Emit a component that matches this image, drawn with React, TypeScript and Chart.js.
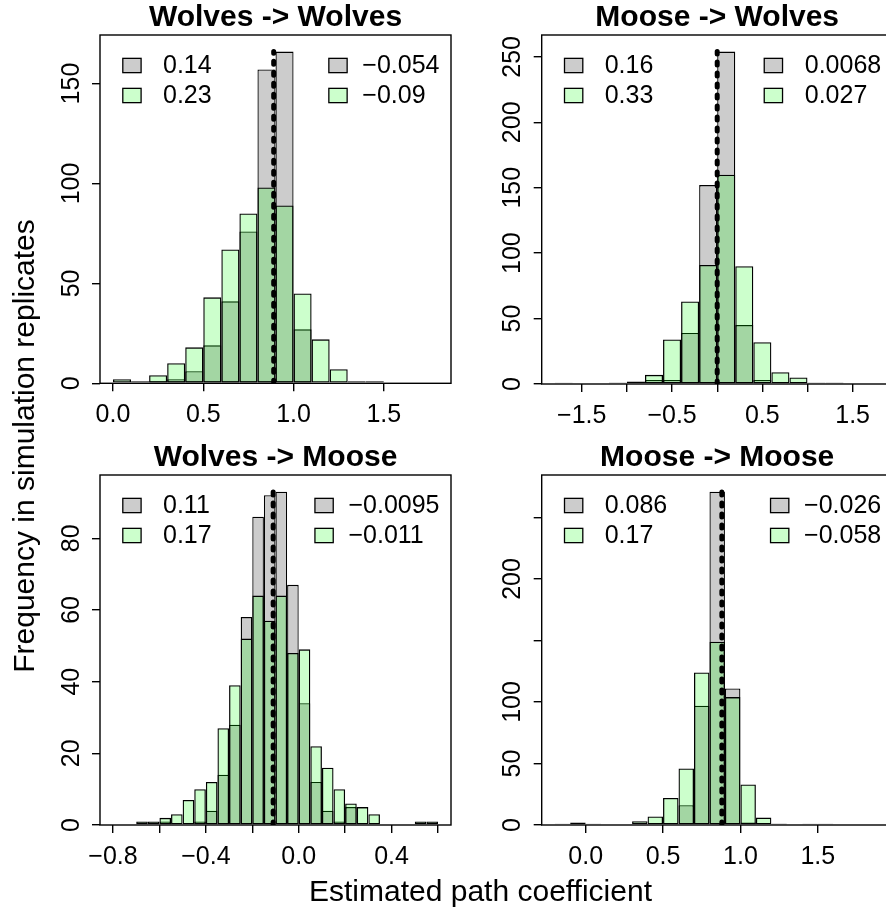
import React, { useEffect, useRef } from 'react';
import { Chart, registerables } from 'chart.js';

Chart.register(...registerables);

const FONT = "'Liberation Sans', Arial, Helvetica, sans-serif";
const GREY = '#cccccc';
const GREEN = 'rgba(0, 255, 0, 0.2)';

// ---------- Wolves -> Wolves ----------
const wwTitle = 'Wolves -> Wolves';
const wwBinStart = 0.0;
const wwBinWidth = 0.1;
const wwGrey = [0, 0, 1, 2, 6, 19, 41, 76, 157, 166, 27, 0, 0, 1, 0];
const wwGreen = [2, 1, 4, 10, 18, 43, 67, 85, 98, 89, 45, 22, 7, 0, 1];
const wwTrue = 0.89;
const wwXRange = [-0.072, 1.872];
const wwXTicks = [0, 0.5, 1, 1.5];
const wwXTickLabels = ['0.0', '0.5', '1.0', '1.5'];
const wwYTicks = [0, 50, 100, 150];
const wwYTickLabels = ['0', '50', '100', '150'];
const wwLegendLeft = ['0.14', '0.23'];
const wwLegendRight = ['\u22120.054', '\u22120.09'];

// ---------- Moose -> Wolves ----------
const mwTitle = 'Moose -> Wolves';
const mwBinStart = -1.8;
const mwBinWidth = 0.2;
const mwGrey = [1, 0, 0, 1, 2, 3, 3, 39, 152, 254, 45, 3, 0, 0, 1, 1];
const mwGreen = [0, 0, 0, 1, 1, 7, 34, 63, 91, 160, 90, 32, 9, 5, 1, 1];
const mwTrue = 0.0;
const mwXRange = [-1.944, 1.944];
const mwXTicks = [-1.5, -1, -0.5, 0, 0.5, 1, 1.5];
const mwXTickLabels = ['\u22121.5', '', '\u22120.5', '', '0.5', '', '1.5'];
const mwYTicks = [0, 50, 100, 150, 200, 250];
const mwYTickLabels = ['0', '50', '100', '150', '200', '250'];
const mwLegendLeft = ['0.16', '0.33'];
const mwLegendRight = ['0.0068', '0.027'];

// ---------- Wolves -> Moose ----------
const wmTitle = 'Wolves -> Moose';
const wmBinStart = -0.7;
const wmBinWidth = 0.05;
const wmGrey = [0, 0, 1, 0, 0, 1, 4, 14, 28, 58, 86, 92, 93, 67, 34, 12, 4, 1, 5, 0, 0, 0, 0, 0, 0, 0];
const wmGreen = [1, 1, 2, 3, 7, 10, 12, 27, 39, 52, 64, 57, 64, 48, 49, 22, 16, 10, 6, 5, 3, 0, 0, 0, 1, 1];
const wmTrue = -0.11;
const wmXRange = [-0.856, 0.656];
const wmXTicks = [-0.8, -0.6, -0.4, -0.2, 0, 0.2, 0.4, 0.6];
const wmXTickLabels = ['\u22120.8', '', '\u22120.4', '', '0.0', '', '0.4', ''];
const wmYTicks = [0, 20, 40, 60, 80];
const wmYTickLabels = ['0', '20', '40', '60', '80'];
const wmLegendLeft = ['0.11', '0.17'];
const wmLegendRight = ['\u22120.0095', '\u22120.011'];

// ---------- Moose -> Moose ----------
const mmTitle = 'Moose -> Moose';
const mmBinStart = -0.2;
const mmBinWidth = 0.1;
const mmGrey = [1, 2, 1, 0, 0, 0, 0, 1, 16, 97, 271, 111, 2, 0, 1, 0, 1, 1];
const mmGreen = [0, 1, 0, 0, 0, 3, 7, 22, 46, 124, 149, 104, 33, 6, 1, 0, 0, 0];
const mmTrue = 0.88;
const mmXRange = [-0.284, 1.984];
const mmXTicks = [0, 0.5, 1, 1.5];
const mmXTickLabels = ['0.0', '0.5', '1.0', '1.5'];
const mmYTicks = [0, 50, 100, 150, 200, 250];
const mmYTickLabels = ['0', '50', '100', '', '200', ''];
const mmLegendLeft = ['0.086', '0.17'];
const mmLegendRight = ['\u22120.026', '\u22120.058'];

const yAxisTitle = 'Frequency in simulation replicates';
const xAxisTitle = 'Estimated path coefficient';

type Spec = {
  title: string; binStart: number; binWidth: number; grey: number[]; green: number[];
  trueValue: number; xRange: number[]; xTicks: number[]; xTickLabels: string[];
  yTicks: number[]; yTickLabels: string[]; legendLeft: string[]; legendRight: string[];
};

const specs: Spec[] = [
  { title: wwTitle, binStart: wwBinStart, binWidth: wwBinWidth, grey: wwGrey, green: wwGreen, trueValue: wwTrue, xRange: wwXRange, xTicks: wwXTicks, xTickLabels: wwXTickLabels, yTicks: wwYTicks, yTickLabels: wwYTickLabels, legendLeft: wwLegendLeft, legendRight: wwLegendRight },
  { title: mwTitle, binStart: mwBinStart, binWidth: mwBinWidth, grey: mwGrey, green: mwGreen, trueValue: mwTrue, xRange: mwXRange, xTicks: mwXTicks, xTickLabels: mwXTickLabels, yTicks: mwYTicks, yTickLabels: mwYTickLabels, legendLeft: mwLegendLeft, legendRight: mwLegendRight },
  { title: wmTitle, binStart: wmBinStart, binWidth: wmBinWidth, grey: wmGrey, green: wmGreen, trueValue: wmTrue, xRange: wmXRange, xTicks: wmXTicks, xTickLabels: wmXTickLabels, yTicks: wmYTicks, yTickLabels: wmYTickLabels, legendLeft: wmLegendLeft, legendRight: wmLegendRight },
  { title: mmTitle, binStart: mmBinStart, binWidth: mmBinWidth, grey: mmGrey, green: mmGreen, trueValue: mmTrue, xRange: mmXRange, xTicks: mmXTicks, xTickLabels: mmXTickLabels, yTicks: mmYTicks, yTickLabels: mmYTickLabels, legendLeft: mmLegendLeft, legendRight: mmLegendRight },
];

type Frame = { cl: number; ct: number; cw: number; ch: number; al: number; at: number; ar: number; ab: number };
const frames: Frame[] = [
  { cl: 0, ct: 0, cw: 460, ch: 440, al: 100, at: 35, ar: 451, ab: 383.3 },
  { cl: 443, ct: 0, cw: 460, ch: 440, al: 541.7, at: 35, ar: 892.7, ab: 384 },
  { cl: 0, ct: 440, cw: 460, ch: 440, al: 100, at: 475, ar: 451, ab: 825 },
  { cl: 443, ct: 440, cw: 460, ch: 440, al: 541.7, at: 475, ar: 892.7, ab: 825 },
];

function Panel({ spec, frame }: { spec: Spec; frame: Frame }) {
  const ref = useRef<HTMLCanvasElement>(null);
  useEffect(() => {
    const canvas = ref.current!;
    const { cl, ct, cw, ch, al, ar, ab } = frame;
    const maxCount = Math.max(...spec.grey, ...spec.green);
    const centers = spec.grey.map((_, i) => spec.binStart + (i + 0.5) * spec.binWidth);
    const mctx = document.createElement('canvas').getContext('2d')!;
    mctx.font = `25px ${FONT}`;
    const widest = Math.max(...spec.yTickLabels.map((s) => mctx.measureText(s).width));
    const yPad = 28.3 - 8 - widest / 2;
    const tickFont = { family: FONT, size: 25 };

    const boxPlugin = {
      id: 'panelBox',
      afterDatasetsDraw(chart: any) {
        const { ctx, chartArea: a } = chart;
        ctx.save();
        ctx.strokeStyle = '#000';
        ctx.lineWidth = 1.4;
        ctx.strokeRect(a.left, a.top, a.right - a.left, a.bottom - a.top);
        ctx.restore();
      },
    };

    const legendPlugin = {
      id: 'cornerLegends',
      afterDraw(chart: any) {
        const { ctx, chartArea: a } = chart;
        ctx.save();
        ctx.font = `25px ${FONT}`;
        ctx.textBaseline = 'middle';
        ctx.textAlign = 'left';
        const rows = [a.top + 30.5, a.top + 60.5];
        const fills = [GREY, GREEN];
        const sqW = 18.3, sqH = 14.3;
        const drawItem = (sqX: number, txtX: number, label: string, r: number) => {
          const cy = rows[r];
          ctx.fillStyle = fills[r];
          ctx.fillRect(sqX, cy - sqH / 2, sqW, sqH);
          ctx.strokeStyle = '#000';
          ctx.lineWidth = 1.3;
          ctx.strokeRect(sqX, cy - sqH / 2, sqW, sqH);
          ctx.fillStyle = '#000';
          ctx.fillText(label, txtX, cy + 0.5);
        };
        spec.legendLeft.forEach((lab, r) => drawItem(a.left + 22.8, a.left + 63, lab, r));
        const wR = Math.max(...spec.legendRight.map((s) => ctx.measureText(s).width));
        const txR = a.right - 11.5 - wR;
        const gap = spec.legendRight[0].startsWith('\u2212') ? 33.5 : 40.5;
        spec.legendRight.forEach((lab, r) => drawItem(txR - gap, txR, lab, r));
        ctx.restore();
      },
    };

    const chart = new Chart(canvas, {
      type: 'bar',
      data: {
        datasets: [
          {
            type: 'line',
            label: 'true value',
            data: [{ x: spec.trueValue, y: 0 }, { x: spec.trueValue, y: maxCount }],
            borderColor: '#000',
            borderWidth: 5,
            borderDash: [3, 8],
            borderCapStyle: 'round',
            pointRadius: 0,
            fill: false,
            order: 0,
          } as any,
          {
            type: 'bar',
            label: 'green',
            data: centers.map((x, i) => ({ x, y: spec.green[i] })),
            backgroundColor: GREEN,
            borderColor: '#000',
            borderWidth: 1.3,
            borderSkipped: false,
            barPercentage: 1,
            categoryPercentage: 1,
            grouped: false,
            inflateAmount: 0,
            order: 1,
          } as any,
          {
            type: 'bar',
            label: 'grey',
            data: centers.map((x, i) => ({ x, y: spec.grey[i] })),
            backgroundColor: GREY,
            borderColor: '#000',
            borderWidth: 1.3,
            borderSkipped: false,
            barPercentage: 1,
            categoryPercentage: 1,
            grouped: false,
            inflateAmount: 0,
            order: 2,
          } as any,
        ],
      },
      options: {
        responsive: false,
        animation: false,
        devicePixelRatio: 1,
        layout: { padding: { left: 0, top: 0, right: cl + cw - ar, bottom: 0 }, autoPadding: false },
        plugins: {
          legend: { display: false },
          tooltip: { enabled: false },
          title: {
            display: true,
            text: spec.title,
            color: '#000',
            fullSize: false,
            font: { family: FONT, size: 30, weight: 'bold', lineHeight: 1 },
            padding: { top: 3, bottom: 2 },
          },
        },
        scales: {
          x: {
            type: 'linear',
            min: spec.xRange[0],
            max: spec.xRange[1],
            offset: false,
            afterBuildTicks: (s: any) => { s.ticks = spec.xTicks.map((v) => ({ value: v })); },
            afterFit: (s: any) => { s.height = ct + ch - ab; },
            ticks: {
              autoSkip: false, maxRotation: 0, minRotation: 0, padding: 9, color: '#000', font: tickFont,
              callback: (_v: any, i: number) => spec.xTickLabels[i],
            },
            grid: { display: true, drawOnChartArea: false, drawTicks: true, tickLength: 8, color: '#000', lineWidth: 1.4, offset: false },
            border: { display: false },
          },
          y: {
            type: 'linear',
            min: 0,
            max: maxCount * 1.05,
            afterBuildTicks: (s: any) => { s.ticks = spec.yTicks.map((v) => ({ value: v })); },
            afterFit: (s: any) => { s.width = al - cl; },
            ticks: {
              autoSkip: false, minRotation: 90, maxRotation: 90, crossAlign: 'center', padding: yPad, color: '#000', font: tickFont,
              callback: (_v: any, i: number) => spec.yTickLabels[i],
            },
            grid: { display: true, drawOnChartArea: false, drawTicks: true, tickLength: 8, color: '#000', lineWidth: 1.4 },
            border: { display: false },
          },
        },
      } as any,
      plugins: [boxPlugin, legendPlugin],
    });
    return () => chart.destroy();
  }, [spec, frame]);

  return (
    <canvas
      ref={ref}
      width={frame.cw}
      height={frame.ch}
      style={{ position: 'absolute', left: frame.cl, top: frame.ct, width: frame.cw, height: frame.ch, display: 'block' }}
    />
  );
}

export default function App() {
  return (
    <div style={{ position: 'fixed', left: 0, top: 0, width: 886, height: 915, overflow: 'hidden', background: '#fff', fontFamily: FONT, color: '#000' }}>
      {specs.map((s, i) => (
        <Panel key={i} spec={s} frame={frames[i]} />
      ))}
      <div
        style={{
          position: 'absolute', left: 23.5 - 300, top: 446 - 15, width: 600, height: 30, lineHeight: '30px',
          fontSize: 30, textAlign: 'center', whiteSpace: 'nowrap', transform: 'rotate(-90deg)',
        }}
      >
        {yAxisTitle}
      </div>
      <div
        style={{
          position: 'absolute', left: 480.5 - 300, top: 876, width: 600, height: 30, lineHeight: '30px',
          fontSize: 30, textAlign: 'center', whiteSpace: 'nowrap',
        }}
      >
        {xAxisTitle}
      </div>
    </div>
  );
}
